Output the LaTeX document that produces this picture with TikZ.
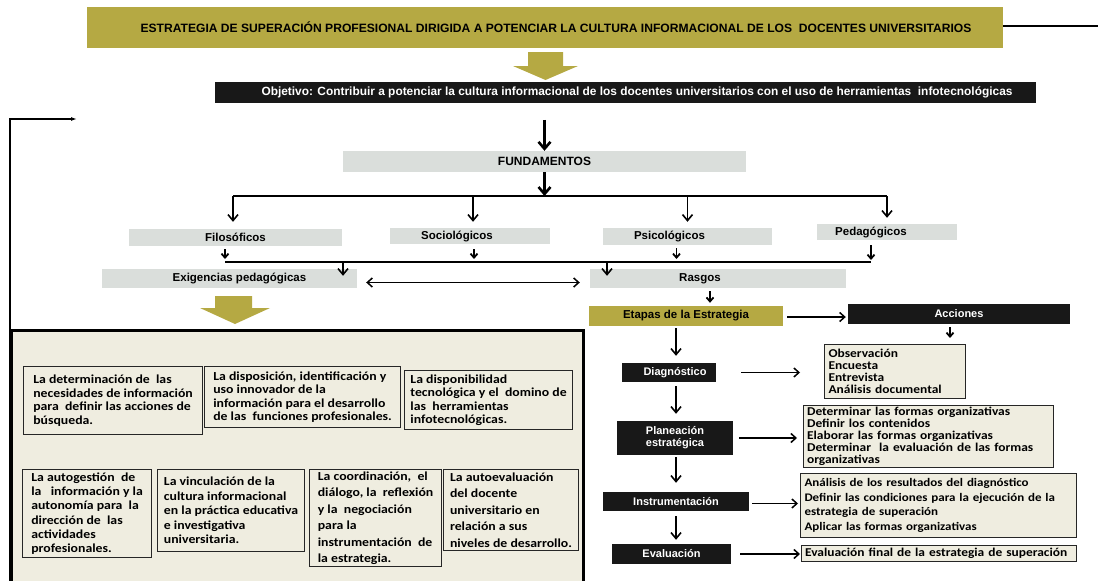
\documentclass[tikz,border=0pt]{standalone}
\usepackage{fontspec}
\setmainfont{Liberation Sans}
\newfontfamily\bodyf[FakeStretch=1.12]{Carlito}
\usetikzlibrary{arrows.meta,calc}
\definecolor{gold}{RGB}{181,169,67}
\definecolor{lgray}{RGB}{218,222,219}
\definecolor{beige}{RGB}{239,237,224}
\definecolor{blk}{RGB}{24,24,24}
\begin{document}
\begin{tikzpicture}[x=1pt,y=-1pt,
  goldbox/.style={fill=gold,inner sep=0pt,font=\bfseries\fontsize{11.5}{13}\selectfont},
  blackbox/.style={fill=blk,text=white,inner sep=0pt,align=center,font=\bfseries\fontsize{11}{13}\selectfont},
  graybox/.style={fill=lgray,inner sep=0pt,font=\bfseries\fontsize{11.5}{13}\selectfont},
  txtbox/.style={draw=black!85,line width=1.1pt,fill=beige,inner sep=0pt,align=left,anchor=north west,font=\bodyf\bfseries\fontsize{12.3}{13.5}\selectfont},
  listbox/.style={draw=black!85,line width=1.1pt,fill=beige,inner sep=0pt,align=left,anchor=north west,font=\bodyf\bfseries\fontsize{12}{12}\selectfont},
  bigarr/.style={line width=2.6pt,-{Straight Barb[length=7pt,width=12pt]}},
  brarr/.style={line width=1.6pt,-{Straight Barb[length=6pt,width=10pt]}},
  smarr/.style={line width=1.8pt,-{Straight Barb[length=4pt,width=7pt]}},
  harr/.style={line width=1.5pt,-{Straight Barb[length=5pt,width=9pt]}},
  dharr/.style={line width=1.5pt,{Straight Barb[length=5pt,width=9pt]}-{Straight Barb[length=5pt,width=9pt]}},
  busline/.style={line width=1.6pt},
]
\useasboundingbox (0,0) rectangle (1098,581);

% big frame
\node[draw=black,line width=3pt,fill=beige,inner sep=0pt,anchor=north west,minimum width=572pt,minimum height=270pt] (big) at (10,329) {};

% title and objective
\node[goldbox,minimum width=916pt,minimum height=41pt,font=\bfseries\fontsize{12.1}{13}\selectfont] (title) at (545,27.5) {\hspace{22pt}ESTRATEGIA DE SUPERACIÓN PROFESIONAL DIRIGIDA A POTENCIAR LA CULTURA INFORMACIONAL DE LOS\ \ DOCENTES UNIVERSITARIOS};
\coordinate (tr) at (1098,26);
\draw[line width=2pt] (title.east |- tr) -- (tr);
\fill[gold] (528,52) -- (563,52) -- (563,66) -- (578,66) -- (545.5,80) -- (513,66) -- (528,66) -- cycle;
\node[blackbox,minimum width=821pt,minimum height=21pt,font=\bfseries\fontsize{11.9}{13}\selectfont] (obj) at (625.5,92.5) {\hspace{23pt}Objetivo: Contribuir a potenciar la cultura informacional de los docentes universitarios con el uso de herramientas\ \ infotecnológicas};

% left feedback line
\coordinate (lb) at (10,590);
\coordinate (lt) at (77,119);
\draw[line width=1.5pt,-{Latex[length=6pt,width=4pt]}] (lb) |- (lt);

% fundamentos
\node[graybox,minimum width=403pt,minimum height=21pt,font=\bfseries\fontsize{12}{13}\selectfont] (fund) at (544.5,161.5) {\raisebox{-3pt}{FUNDAMENTOS}};
\draw[bigarr] ($(fund.north)+(0,-31)$) -- (fund.north);
\coordinate (bus1) at (544.5,196);
\draw[bigarr] (fund.south) -- (bus1);

\node[graybox,minimum width=213pt,minimum height=17pt] (filo) at (235.5,237.5) {\raisebox{-1pt}{Filosóficos}};
\node[graybox,minimum width=160pt,minimum height=16pt] (soc) at (470,236) {\hspace{-26pt}Sociológicos};
\node[graybox,minimum width=169pt,minimum height=17pt] (psi) at (687.5,236.5) {\hspace{-36pt}Psicológicos};
\node[graybox,minimum width=140pt,minimum height=16pt] (ped) at (887,232) {\hspace{-32pt}Pedagógicos};

\coordinate (c1) at (233,0);
\draw[busline] (bus1 -| c1) -- (bus1 -| ped.north);
\draw[brarr,shorten >=7pt] (bus1 -| c1) -- (filo.north -| c1);
\draw[brarr,shorten >=6pt] (bus1 -| soc.north) ++(3,0) -- ($(soc.north)+(3,0)$);
\draw[brarr,shorten >=6pt] (bus1 -| psi.north) -- (psi.north);
\draw[brarr,shorten >=6pt] (bus1 -| ped.north) -- (ped.north);

% second bus
\coordinate (b2l) at (225,262);
\coordinate (b2r) at (871,262);
\draw[busline] (b2l) -- (b2r);
\draw[smarr,shorten <=3pt,shorten >=3pt] (filo.south -| b2l) -- (b2l);
\draw[smarr,shorten <=5pt,shorten >=3pt] ($(soc.south)+(4,0)$) -- ($(soc.south |- b2l)+(4,0)$);
\draw[smarr,shorten <=3pt,shorten >=3pt] ($(psi.south)+(-11,0)$) -- ($(psi.south |- b2l)+(-11,0)$);
\draw[smarr,shorten <=5pt,shorten >=2pt] (ped.south -| b2r) -- (b2r);

\node[graybox,minimum width=255pt,minimum height=19pt] (exig) at (229.5,278.5) {\hspace{20pt}\raisebox{-2pt}{Exigencias pedagógicas}};
\node[graybox,minimum width=256pt,minimum height=19pt] (rasgos) at (718,278.5) {\hspace{-36pt}\raisebox{-2pt}{Rasgos}};
\coordinate (e1) at (343,262);
\coordinate (r0) at (607,262);
\draw[brarr] (e1) -- ($(e1 |- exig.north)+(0,7)$);
\draw[brarr] (r0) -- ($(r0 |- rasgos.north)+(0,7)$);
\draw[dharr,shorten <=9pt,shorten >=10pt] ($(exig.east)+(0,4)$) -- ($(rasgos.west)+(0,4)$);

% gold arrow to lower box
\fill[gold] (215,296) -- (252,296) -- (252,308) -- (270,308) -- (235,324) -- (200,308) -- (215,308) -- cycle;

% etapas
\node[goldbox,minimum width=194pt,minimum height=20pt] (etapas) at (686,316) {\raisebox{-2pt}{Etapas de la Estrategia}};
\coordinate (r1) at (710,0);
\draw[smarr,shorten <=3pt,shorten >=3pt] (rasgos.south -| r1) -- (etapas.north -| r1);
\node[blackbox,minimum width=222pt,minimum height=20pt] (acc) at (959,314) {Acciones};
\draw[harr,shorten <=4pt,shorten >=2pt] (etapas.east |- 0,317) -- (acc.west |- 0,317);

\node[listbox,minimum width=141pt,minimum height=54pt,text width=133pt,inner xsep=4pt] (obs) at (824,344) {Observación\\Encuesta\\Entrevista\\Análisis documental};
\coordinate (a1) at (950,0);
\draw[smarr,shorten <=3pt,shorten >=6pt] (acc.south -| a1) -- (obs.north -| a1);

\node[blackbox,minimum width=94pt,minimum height=19pt] (diag) at (669,372.5) {\hspace{12pt}Diagnóstico};
\node[blackbox,minimum width=116pt,minimum height=34pt,font=\bfseries\fontsize{11}{12}\selectfont] (plan) at (675,438) {Planeación\\estratégica};
\node[blackbox,minimum width=146pt,minimum height=19pt] (instr) at (676,501.5) {Instrumentación};
\node[blackbox,minimum width=119pt,minimum height=20pt] (eval) at (671.5,554) {Evaluación};

\coordinate (sx) at (676,0);
\draw[brarr,shorten <=2pt,shorten >=7pt] (etapas.south -| sx) -- (diag.north -| sx);
\draw[brarr,shorten <=4pt,shorten >=7pt] (diag.south -| sx) -- (plan.north -| sx);
\draw[brarr,shorten <=2pt,shorten >=9pt] (plan.south -| sx) -- (instr.north -| sx);
\draw[brarr,shorten <=5pt,shorten >=4pt] (instr.south -| sx) -- (eval.north -| sx);

\node[listbox,minimum width=250pt,minimum height=62pt,text width=243pt,inner xsep=3.5pt] (plist) at (803,405) {Determinar las formas organizativas\\Definir los contenidos\\Elaborar las formas organizativas\\Determinar\ \ la evaluación de las formas\\organizativas};
\node[listbox,minimum width=276pt,minimum height=64pt,text width=268pt,inner xsep=4pt,font=\bodyf\bfseries\fontsize{11.6}{14.5}\selectfont] (ilist) at (800,473) {Análisis de los resultados del diagnóstico\\Definir las condiciones para la ejecución de la\\estrategia de superación\\Aplicar las formas organizativas};
\node[listbox,minimum width=275pt,minimum height=16pt,text width=268pt,inner xsep=3.5pt] (elist) at (801,545) {Evaluación final de la estrategia de superación};

\draw[harr,shorten <=25pt,shorten >=24pt] (diag.east) -- (diag.east -| obs.west);
\draw[harr,shorten <=6pt,shorten >=6pt] (plan.east) -- (plan.east -| plist.west);
\draw[harr,shorten <=3pt,shorten >=2pt] ($(instr.east)+(0,2)$) -- ($(instr.east -| ilist.west)+(0,2)$);
\draw[harr,shorten <=9pt,shorten >=1pt] (eval.east) -- (eval.east -| elist.west);

% inner boxes
\node[txtbox,minimum width=179pt,minimum height=68pt] (b1) at (23,366) {La determinación de\ \ las\\necesidades de información\\para\ \ definir las acciones de\\búsqueda.};
\node[txtbox,minimum width=196pt,minimum height=61pt] (b2) at (204,366) {La disposición, identificación y\\uso innovador de la\\información para el desarrollo\\de las\ \ funciones profesionales.};
\node[txtbox,minimum width=168pt,minimum height=59pt] (b3) at (404,370) {La disponibilidad\\tecnológica y el\ \ domino de\\las\ \ herramientas\\infotecnológicas.};
\node[txtbox,minimum width=129pt,minimum height=88pt,font=\bodyf\bfseries\fontsize{12.3}{14.2}\selectfont] (b4) at (22,469) {La autogestión\ \ de\\la\ \ \ información y la\\autonomía para\ \ la\\dirección de\ \ las\\actividades\\profesionales.};
\node[txtbox,minimum width=147pt,minimum height=82pt,font=\bodyf\bfseries\fontsize{12.3}{14.5}\selectfont] (b5) at (157,469) {La vinculación de la\\cultura informacional\\en la práctica educativa\\e investigativa\\universitaria.};
\node[txtbox,minimum width=132pt,minimum height=97pt,font=\bodyf\bfseries\fontsize{12.3}{16.5}\selectfont] (b6) at (309,469) {La coordinación,\ \ el\\diálogo, la\ \ reflexión\\y la\ \ negociación\\para la\\instrumentación\ \ de\\la estrategia.};
\node[txtbox,minimum width=135pt,minimum height=81pt,font=\bodyf\bfseries\fontsize{12.3}{16.5}\selectfont] (b7) at (443,469) {La autoevaluación\\del docente\\universitario en\\relación a sus\\niveles de desarrollo.};
\end{tikzpicture}
\end{document}
